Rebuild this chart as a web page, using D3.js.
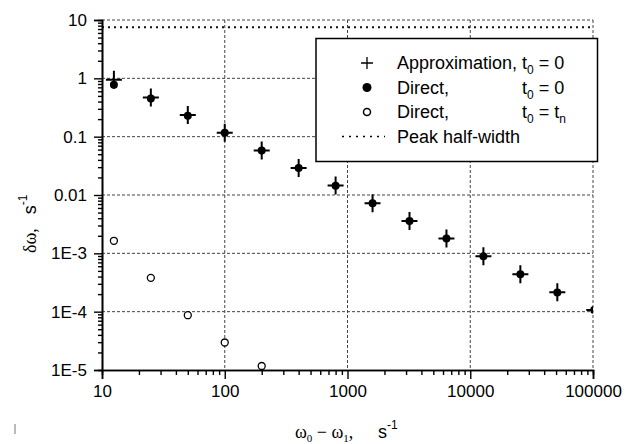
<!DOCTYPE html>
<html>
<head>
<meta charset="utf-8">
<script src="https://cdn.jsdelivr.net/npm/d3@7"></script>
<style>
  body { margin: 0; background: #fff; }
  svg { font-family: "Liberation Sans", Arial, sans-serif; }
</style>
</head>
<body>
<div id="chart-area"></div>
<script>
// frequency offsets (s^-1)
const freqs = [12.5, 25, 50, 100, 200, 400, 800, 1600, 3200, 6400, 12800, 25600, 51200, 102400];
const approxValues = [0.95, 0.47, 0.235, 0.117, 0.058, 0.029, 0.0145, 0.0072, 0.0036, 0.0018, 0.00089, 0.00044, 0.000215, 0.000107];
const directValues = [0.78, 0.45, 0.229, 0.117, 0.058, 0.029, 0.0144, 0.0072, 0.0036, 0.0018, 0.00089, 0.00044, 0.000214, 0.000107];
const directTnFreqs = [12.5, 25, 50, 100, 200];
const directTnValues = [0.00164, 0.00038, 0.000087, 0.0000296, 0.0000117];
const peakHalfWidth = 7.5;

const xTicks = [10, 100, 1000, 10000, 100000];
const xTickLabels = ["10", "100", "1000", "10000", "100000"];
const yTicks = [10, 1, 0.1, 0.01, 1e-3, 1e-4, 1e-5];
const yTickLabels = ["10", "1", "0.1", "0.01", "1E-3", "1E-4", "1E-5"];

const draw = () => {
  const WIDTH = 625;
  const HEIGHT = 444;
  const left = 102, right = 593, top = 20, bottom = 370;

  const svg = d3.select("#chart-area").append("svg")
    .attr("width", WIDTH)
    .attr("height", HEIGHT);

  const x = d3.scaleLog().domain([10, 100000]).range([left, right]);
  const y = d3.scaleLog().domain([1e-5, 10]).range([bottom, top]);

  svg.append("defs").append("clipPath").attr("id", "plot-clip")
    .append("rect")
    .attr("x", left).attr("y", top - 10)
    .attr("width", right - left).attr("height", bottom - top + 10);

  // dashed grid
  const grid = svg.append("g")
    .attr("stroke", "#444")
    .attr("stroke-width", 1)
    .attr("stroke-dasharray", "3,2");
  grid.selectAll(".gx").data(xTicks.slice(1)).enter().append("line")
    .attr("x1", d => x(d)).attr("x2", d => x(d))
    .attr("y1", top).attr("y2", bottom);
  grid.selectAll(".gy").data(yTicks.slice(0, -1)).enter().append("line")
    .attr("x1", left).attr("x2", right)
    .attr("y1", d => y(d)).attr("y2", d => y(d));

  // peak half-width
  svg.append("line")
    .attr("x1", left).attr("x2", right)
    .attr("y1", y(peakHalfWidth)).attr("y2", y(peakHalfWidth))
    .attr("stroke", "#111")
    .attr("stroke-width", 2)
    .attr("stroke-dasharray", "2,4");

  // axes
  const xMinor = [];
  const yMinor = [];
  for (let e = 1; e < 5; e++) for (let k = 2; k < 10; k++) xMinor.push(k * Math.pow(10, e));
  for (let e = -5; e < 1; e++) for (let k = 2; k < 10; k++) yMinor.push(k * Math.pow(10, e));

  const xAxis = svg.append("g").attr("transform", `translate(0,${bottom})`);
  xAxis.call(d3.axisBottom(x).tickValues(xMinor).tickSize(5).tickFormat(""));
  xAxis.append("g").call(d3.axisBottom(x).tickValues(xTicks).tickSize(9)
    .tickFormat((d, i) => xTickLabels[i]).tickPadding(6));
  xAxis.selectAll(".domain").attr("stroke-width", 1.6);
  xAxis.selectAll("line").attr("stroke-width", 1.4);
  xAxis.selectAll("text").attr("font-size", 17).attr("fill", "#000")
    .attr("font-family", "Liberation Sans, Arial, sans-serif");

  const yAxis = svg.append("g").attr("transform", `translate(${left},0)`);
  yAxis.call(d3.axisLeft(y).tickValues(yMinor).tickSize(4).tickFormat(""));
  yAxis.append("g").call(d3.axisLeft(y).tickValues(yTicks).tickSize(8)
    .tickFormat((d, i) => yTickLabels[i]).tickPadding(7));
  yAxis.selectAll(".domain").attr("stroke-width", 1.6);
  yAxis.selectAll("line").attr("stroke-width", 1.4);
  yAxis.selectAll("text").attr("font-size", 17).attr("fill", "#000")
    .attr("font-family", "Liberation Sans, Arial, sans-serif");

  const plot = svg.append("g").attr("clip-path", "url(#plot-clip)");

  // approximation (+)
  plot.selectAll(".plus").data(freqs).enter().append("path")
    .attr("d", (d, i) => {
      const cx = x(d), cy = y(approxValues[i]);
      return `M${cx - 8},${cy}H${cx + 8}M${cx},${cy - 9}V${cy + 9}`;
    })
    .attr("stroke", "#000")
    .attr("stroke-width", 2);

  // direct t0 = 0
  plot.selectAll(".dot").data(freqs).enter().append("circle")
    .attr("cx", d => x(d))
    .attr("cy", (d, i) => y(directValues[i]))
    .attr("r", 4)
    .attr("fill", "#000");

  // direct t0 = tn
  plot.selectAll(".odot").data(directTnFreqs).enter().append("circle")
    .attr("cx", d => x(d))
    .attr("cy", (d, i) => y(directTnValues[i]))
    .attr("r", 3.5)
    .attr("fill", "#fff")
    .attr("stroke", "#000")
    .attr("stroke-width", 1.3);

  // legend
  const lg = svg.append("g");
  lg.append("rect")
    .attr("x", 316).attr("y", 38.5)
    .attr("width", 281.5).attr("height", 123)
    .attr("fill", "#fff").attr("stroke", "#000").attr("stroke-width", 1.5);
  const symX = 367, txtX = 397;
  const rows = [63, 87.5, 112, 136.5];
  lg.append("path")
    .attr("d", `M${symX - 6},${rows[0]}H${symX + 6}M${symX},${rows[0] - 6}V${rows[0] + 6}`)
    .attr("stroke", "#000").attr("stroke-width", 1.3);
  lg.append("circle").attr("cx", symX).attr("cy", rows[1]).attr("r", 4.5).attr("fill", "#000");
  lg.append("circle").attr("cx", symX).attr("cy", rows[2]).attr("r", 3.5)
    .attr("fill", "#fff").attr("stroke", "#000").attr("stroke-width", 1.5);
  lg.append("line")
    .attr("x1", symX - 25).attr("x2", symX + 18)
    .attr("y1", rows[3]).attr("y2", rows[3])
    .attr("stroke", "#000").attr("stroke-width", 1.5).attr("stroke-dasharray", "2,5");

  const sub = (t, base, s) => {
    t.append("tspan").text(base);
    t.append("tspan").attr("font-size", 12).attr("dy", 5).text(s);
  };
  const t1 = lg.append("text").attr("x", txtX).attr("y", rows[0] + 6).attr("font-size", 18);
  t1.append("tspan").text("Approximation, ");
  sub(t1, "t", "0");
  t1.append("tspan").attr("dy", -5).text(" = 0");

  const t2 = lg.append("text").attr("x", txtX).attr("y", rows[1] + 6).attr("font-size", 18);
  t2.append("tspan").text("Direct,");
  const t2b = lg.append("text").attr("x", 522).attr("y", rows[1] + 6).attr("font-size", 18);
  sub(t2b, "t", "0");
  t2b.append("tspan").attr("dy", -5).text(" = 0");

  lg.append("text").attr("x", txtX).attr("y", rows[2] + 6).attr("font-size", 18).text("Direct,");
  const t3b = lg.append("text").attr("x", 522).attr("y", rows[2] + 6).attr("font-size", 18);
  sub(t3b, "t", "0");
  t3b.append("tspan").attr("dy", -5).text(" = t");
  t3b.append("tspan").attr("font-size", 12).attr("dy", 5).text("n");

  lg.append("text").attr("x", txtX).attr("y", rows[3] + 6).attr("font-size", 18).text("Peak half-width");

  // axis titles
  const xt = svg.append("text").attr("x", 295).attr("y", 438).attr("font-size", 18);
  xt.append("tspan").attr("font-family", "Liberation Serif, serif").text("ω");
  xt.append("tspan").attr("font-family", "Liberation Serif, serif").attr("font-size", 11).attr("dy", 4).text("0");
  xt.append("tspan").attr("font-family", "Liberation Serif, serif").attr("dy", -4).text(" − ω");
  xt.append("tspan").attr("font-family", "Liberation Serif, serif").attr("font-size", 11).attr("dy", 4).text("1");
  xt.append("tspan").attr("font-family", "Liberation Serif, serif").attr("dy", -4).text(",");
  xt.append("tspan").attr("x", 378).text("s");
  xt.append("tspan").attr("font-size", 12).attr("dy", -9).text("-1");

  const yt = svg.append("text")
    .attr("transform", "translate(36,253) rotate(-90)")
    .attr("font-size", 18);
  yt.append("tspan").attr("font-family", "Liberation Serif, serif").text("δω,");
  yt.append("tspan").attr("dx", 14).text("s");
  yt.append("tspan").attr("font-size", 12).attr("dy", -9).text("-1");

  // scan artifact
  svg.append("line").attr("x1", 15).attr("x2", 15).attr("y1", 424).attr("y2", 434)
    .attr("stroke", "#777").attr("stroke-width", 1);
};

window.onload = draw;
</script>
</body>
</html>
